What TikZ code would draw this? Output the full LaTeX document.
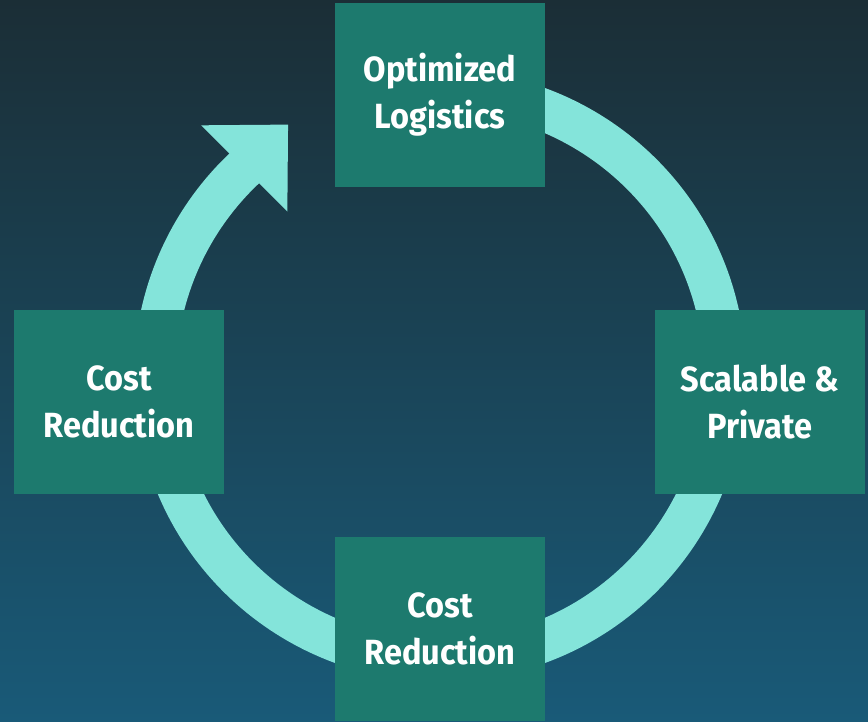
\documentclass[tikz,border=0pt]{standalone}
\usepackage{fontspec}
\setmainfont{Fira Sans}[FakeStretch=0.93]
\definecolor{bgtop}{RGB}{27,46,54}
\definecolor{bgbot}{RGB}{25,90,120}
\definecolor{boxc}{RGB}{29,122,110}
\definecolor{ringc}{RGB}{132,228,218}
\tikzset{
  box/.style={fill=boxc, minimum width=210pt, minimum height=184pt, inner sep=0pt,
    align=center, text=white, font=\bfseries\fontsize{35}{47}\selectfont},
  ring/.style={draw=ringc, line width=42pt, line cap=butt}
}
\begin{document}
\begin{tikzpicture}[x=1pt,y=1pt]
\useasboundingbox (0,0) rectangle (868,722);
\shade[top color=bgtop, bottom color=bgbot] (0,0) rectangle (868,722);
\coordinate (c) at (440,346.5);
\draw[ring] (c) ++(100:285pt) arc[start angle=100, end angle=-226.8, radius=285pt] coordinate (e);
\fill[ringc, shift={(e)}, rotate=45] (-1,21) -- (-1,61) -- (61,0) -- (-1,-61) -- (-1,-21) -- cycle;
\node[box] (top) at (440,627) {Optimized\\Logistics};
\node[box] (right) at (760,320) {Scalable \&\\Private};
\node[box] (bottom) at (440,93) {Cost\\Reduction};
\node[box] (left) at (119,320) {Cost\\Reduction};
\end{tikzpicture}
\end{document}
